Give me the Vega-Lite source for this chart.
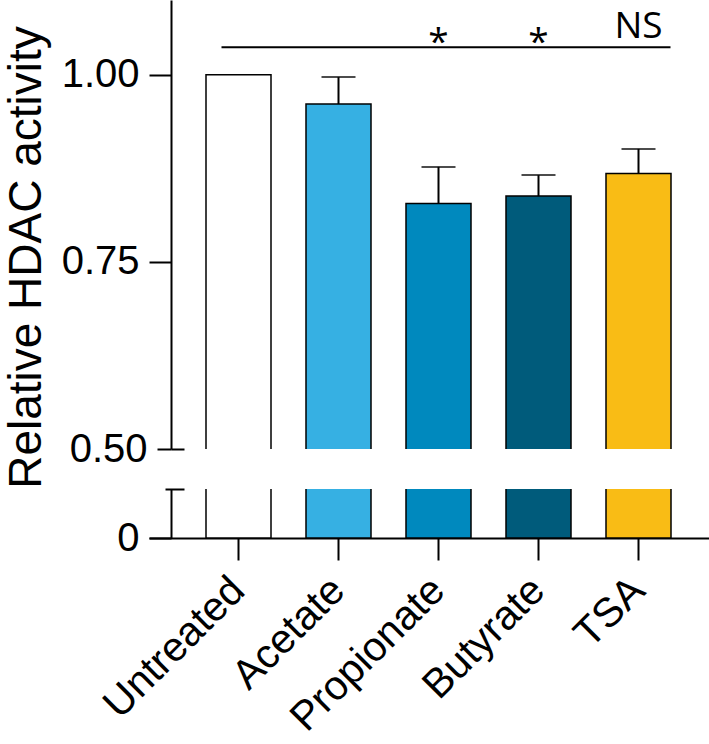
{
  "$schema": "https://vega.github.io/schema/vega-lite/v6.json",
  "background": "white",
  "padding": {"left": 3, "top": 0, "right": 0, "bottom": 0},
  "bounds": "flush",
  "datasets": {
    "bars": [
      {"group": "Untreated", "value": 1.0, "upper": null},
      {"group": "Acetate", "value": 0.961, "upper": 0.997},
      {"group": "Propionate", "value": 0.828, "upper": 0.877},
      {"group": "Butyrate", "value": 0.838, "upper": 0.866},
      {"group": "TSA", "value": 0.868, "upper": 0.901}
    ],
    "sigline": [{"from": "Untreated", "to": "TSA", "y": 1.037}],
    "sig": [
      {"group": "Propionate", "label": "*", "y": 1.028},
      {"group": "Butyrate", "label": "*", "y": 1.028},
      {"group": "TSA", "label": "NS", "y": 1.0495}
    ]
  },
  "config": {
    "view": {"stroke": null},
    "axis": {
      "domainColor": "black", "domainWidth": 2, "tickColor": "black", "tickWidth": 2,
      "labelColor": "black", "titleColor": "black", "grid": false,
      "labelFont": "Liberation Sans", "titleFont": "Liberation Sans", "titleFontWeight": "normal"
    }
  },
  "vconcat": [
    {
      "width": 560,
      "height": 449,
      "resolve": {"axis": {"y": "independent"}},
      "layer": [
        {
          "data": {"name": "bars"},
          "mark": {"type": "bar", "clip": true, "stroke": "black", "strokeWidth": 1.5},
          "encoding": {
            "x": {"field": "group", "type": "nominal", "axis": null,
              "scale": {"domain": ["Untreated", "Acetate", "Propionate", "Butyrate", "TSA"], "paddingInner": 0.35, "paddingOuter": 0.475, "align": 0.6}},
            "y": {"field": "value", "type": "quantitative",
              "scale": {"domain": [0.5, 1.1], "nice": false, "zero": false},
              "axis": {"orient": "left", "values": [0.5, 0.75, 1.0], "format": ".2f",
                "tickSize": {"condition": {"test": "datum.value == 0.5", "value": 14}, "value": 22},
                "offset": -22, "labelPadding": 10,
                "labelFontSize": 40, "title": "Relative HDAC activity", "titleFontSize": 46, "titlePadding": 11, "titleY": 257}},
            "color": {"field": "group", "type": "nominal", "legend": null,
              "scale": {"domain": ["Untreated", "Acetate", "Propionate", "Butyrate", "TSA"],
                "range": ["#ffffff", "#36b0e3", "#0089be", "#005b7b", "#f9bc15"]}}
          }
        },
        {
          "data": {"name": "bars"},
          "transform": [{"filter": "datum.upper != null"}],
          "mark": {"type": "rule", "color": "black", "strokeWidth": 2},
          "encoding": {
            "x": {"field": "group", "type": "nominal"},
            "y": {"field": "value", "type": "quantitative",
              "axis": {"orient": "left", "values": [0.5], "labels": false, "domain": false, "tickSize": 13, "offset": -35, "title": null}},
            "y2": {"field": "upper"}
          }
        },
        {
          "data": {"name": "bars"},
          "transform": [{"filter": "datum.upper != null"}],
          "mark": {"type": "tick", "color": "black", "size": 34, "thickness": 2},
          "encoding": {
            "x": {"field": "group", "type": "nominal"},
            "y": {"field": "upper", "type": "quantitative", "axis": null}
          }
        },
        {
          "data": {"name": "sigline"},
          "mark": {"type": "rule", "color": "black", "strokeWidth": 2, "xOffset": -17, "x2Offset": 32},
          "encoding": {
            "x": {"field": "from", "type": "nominal"},
            "x2": {"field": "to"},
            "y": {"field": "y", "type": "quantitative", "axis": null}
          }
        },
        {
          "data": {"name": "sig"},
          "mark": {"type": "text", "font": "Open Sans", "fontSize": 37, "color": "black", "baseline": "alphabetic", "align": "center"},
          "encoding": {
            "x": {"field": "group", "type": "nominal"},
            "y": {"field": "y", "type": "quantitative", "axis": null},
            "text": {"field": "label"}
          }
        }
      ]
    },
    {
      "width": 560,
      "height": 49,
      "resolve": {"axis": {"y": "independent"}},
      "layer": [
        {
          "data": {"name": "bars"},
          "mark": {"type": "bar", "clip": true, "stroke": "black", "strokeWidth": 1.5},
          "encoding": {
            "x": {"field": "group", "type": "nominal",
              "scale": {"domain": ["Untreated", "Acetate", "Propionate", "Butyrate", "TSA"], "paddingInner": 0.35, "paddingOuter": 0.475, "align": 0.6},
              "axis": {"title": null, "tickSize": 22, "labelAngle": -45, "labelFontSize": 41, "labelPadding": 24, "labelAlign": "right", "labelBaseline": "middle", "labelLimit": 500}},
            "y": {"field": "value", "type": "quantitative",
              "scale": {"domain": [0, 0.1], "nice": false},
              "axis": {"orient": "left", "values": [0], "format": "d", "tickSize": 22, "offset": -22, "labelPadding": 10, "labelFontSize": 40, "title": null}},
            "color": {"field": "group", "type": "nominal", "legend": null,
              "scale": {"domain": ["Untreated", "Acetate", "Propionate", "Butyrate", "TSA"],
                "range": ["#ffffff", "#36b0e3", "#0089be", "#005b7b", "#f9bc15"]}}
          }
        },
        {
          "data": {"name": "bars"},
          "mark": {"type": "bar", "clip": true, "opacity": 0},
          "encoding": {
            "x": {"field": "group", "type": "nominal"},
            "y": {"field": "value", "type": "quantitative",
              "axis": {"orient": "left", "values": [0.1], "labels": false, "domain": false, "tickSize": 19, "offset": -35, "title": null}}
          }
        }
      ]
    }
  ],
  "spacing": 40
}
